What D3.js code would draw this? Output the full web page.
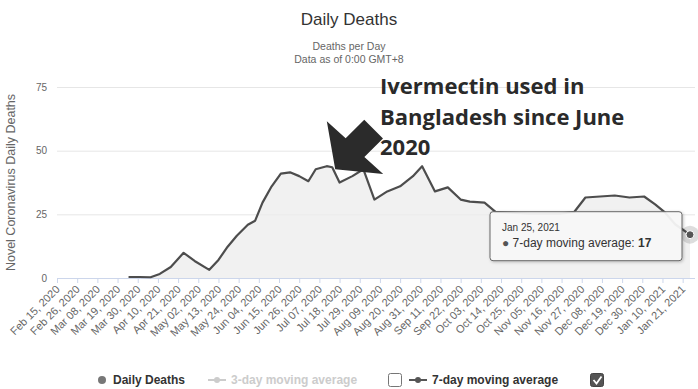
<!DOCTYPE html>
<html>
<head>
<meta charset="utf-8">
<script src="https://cdn.jsdelivr.net/npm/d3@7"></script>
<style>
  html, body { margin: 0; padding: 0; background: #fff; }
  svg { display: block; font-family: "Liberation Sans", Arial, sans-serif; }
</style>
</head>
<body>
<svg id="chart" width="698" height="389"></svg>
<script>
// Bangladesh: novel coronavirus deaths, 7-day moving average
const avgDates = [
  "2020-03-25","2020-03-31","2020-04-06","2020-04-11","2020-04-17","2020-04-24",
  "2020-04-30","2020-05-08","2020-05-13","2020-05-18","2020-05-23","2020-05-29",
  "2020-06-02","2020-06-06","2020-06-11","2020-06-16","2020-06-21","2020-06-26",
  "2020-07-01","2020-07-05","2020-07-11","2020-07-14","2020-07-18","2020-07-25",
  "2020-07-31","2020-08-06","2020-08-13","2020-08-20","2020-08-27","2020-09-01",
  "2020-09-08","2020-09-15","2020-09-22","2020-09-27","2020-10-05","2020-10-11",
  "2020-10-19","2020-10-30","2020-11-15","2020-11-23","2020-11-29","2020-12-07",
  "2020-12-15","2020-12-23","2020-12-31","2021-01-06","2021-01-11","2021-01-17",
  "2021-01-25"
];
const avgValues = [
  0.4, 0.4, 0.3, 1.6, 4.3, 9.9,
  6.7, 3.2, 7.1, 12.3, 16.6, 20.9,
  22.5, 29.6, 36, 41, 41.5, 40,
  38, 42.7, 43.9, 43.5, 37.5, 40,
  42.7, 30.8, 34, 36, 40, 43.9,
  34, 35.6, 30.8, 30, 29.6, 26,
  25.7, 25.3, 25.3, 26, 31.6, 32,
  32.4, 31.6, 32, 28.9, 26, 21,
  17
];
const tickLabels = [
  "Feb 15, 2020","Feb 26, 2020","Mar 08, 2020","Mar 19, 2020","Mar 30, 2020",
  "Apr 10, 2020","Apr 21, 2020","May 02, 2020","May 13, 2020","May 24, 2020",
  "Jun 04, 2020","Jun 15, 2020","Jun 26, 2020","Jul 07, 2020","Jul 18, 2020",
  "Jul 29, 2020","Aug 09, 2020","Aug 20, 2020","Aug 31, 2020","Sep 11, 2020",
  "Sep 22, 2020","Oct 03, 2020","Oct 14, 2020","Oct 25, 2020","Nov 05, 2020",
  "Nov 16, 2020","Nov 27, 2020","Dec 08, 2020","Dec 19, 2020","Dec 30, 2020",
  "Jan 10, 2021","Jan 21, 2021"
];
const yTicks = [0, 25, 50, 75];
const legendItems = ["Daily Deaths", "3-day moving average", "7-day moving average"];
const noteLines = ["Ivermectin used in", "Bangladesh since June", "2020"];
const notePoint = { date: "2020-07-14", value: 43.5 };
const hoverLabel = "Jan 25, 2021";

const parseIso = d3.utcParse("%Y-%m-%d");
const parseTick = d3.utcParse("%b %d, %Y");
const points = avgDates.map((d, i) => ({ date: parseIso(d), value: avgValues[i] }));

const svg = d3.select("#chart");
const plot = { left: 57, right: 695, top: 87, bottom: 278 };

const x = d3.scaleUtc()
  .domain([parseTick(tickLabels[0]), points[points.length - 1].date])
  .range([plot.left, 690]);
const y = d3.scaleLinear().domain([0, 75]).range([plot.bottom, plot.top]);

// titles
svg.append("text").attr("x", 349).attr("y", 25).attr("text-anchor", "middle")
  .attr("font-size", 17).attr("fill", "#333").text("Daily Deaths");
svg.append("text").attr("x", 349).attr("y", 50).attr("text-anchor", "middle")
  .attr("font-size", 10.5).attr("fill", "#666").text("Deaths per Day");
svg.append("text").attr("x", 349).attr("y", 63).attr("text-anchor", "middle")
  .attr("font-size", 10.5).attr("fill", "#666").text("Data as of 0:00 GMT+8");

// grid + y axis
const yAxis = d3.axisLeft(y).tickValues(yTicks).tickSize(-(plot.right - plot.left)).tickPadding(10);
const gy = svg.append("g").attr("transform", `translate(${plot.left},0)`).call(yAxis);
gy.select(".domain").remove();
gy.selectAll(".tick line").attr("stroke", "#e6e6e6");
gy.selectAll(".tick text").attr("font-size", 10).attr("fill", "#666")
  .attr("font-family", "Liberation Sans, Arial, sans-serif");

svg.append("text")
  .attr("transform", `translate(15,${(plot.top + plot.bottom) / 2}) rotate(-90)`)
  .attr("text-anchor", "middle").attr("font-size", 12.5).attr("fill", "#666")
  .text("Novel Coronavirus Daily Deaths");

// x axis
const tickDates = tickLabels.map(parseTick);
const xAxis = d3.axisBottom(x).tickValues(tickDates).tickSize(5).tickFormat((d, i) => tickLabels[i]);
const gx = svg.append("g").attr("transform", `translate(0,${plot.bottom})`).call(xAxis);
gx.select(".domain").attr("stroke", "#ccd6eb").attr("d", `M${plot.left},0.5H${plot.right}`);
gx.selectAll(".tick line").attr("stroke", "#ccd6eb");
gx.selectAll(".tick text")
  .attr("font-size", 11).attr("fill", "#666")
  .attr("font-family", "Liberation Sans, Arial, sans-serif")
  .attr("text-anchor", "end").attr("dy", null).attr("y", null)
  .attr("transform", "translate(3,12) rotate(-45)");

// pale fill under the average
const area = d3.area().x(d => x(d.date)).y0(y(0)).y1(d => y(d.value));
svg.append("path").datum(points).attr("d", area).attr("fill", "#ececec").attr("opacity", 0.75);

// 7-day moving average line
const line = d3.line().x(d => x(d.date)).y(d => y(d.value));
svg.append("path").datum(points).attr("d", line)
  .attr("fill", "none").attr("stroke", "#4d4d4d").attr("stroke-width", 2.2)
  .attr("stroke-linejoin", "round");

// hovered point
const last = points[points.length - 1];
svg.append("circle").attr("cx", x(last.date)).attr("cy", y(last.value)).attr("r", 9)
  .attr("fill", "#555").attr("opacity", 0.2);
svg.append("circle").attr("cx", x(last.date)).attr("cy", y(last.value)).attr("r", 4)
  .attr("fill", "#555").attr("stroke", "#fff").attr("stroke-width", 1);

// tooltip
const defs = svg.append("defs");
const sh = defs.append("filter").attr("id", "shadow").attr("x", "-10%").attr("y", "-10%")
  .attr("width", "130%").attr("height", "150%");
sh.append("feDropShadow").attr("dx", 1).attr("dy", 1).attr("stdDeviation", 1.5)
  .attr("flood-color", "#000").attr("flood-opacity", 0.25);
const tip = svg.append("g").attr("transform", `translate(${x(last.date) - 200},${y(last.value) - 23})`);
tip.append("rect").attr("width", 192).attr("height", 49).attr("rx", 3)
  .attr("fill", "rgba(250,250,250,0.92)").attr("stroke", "#666").attr("filter", "url(#shadow)");
tip.append("text").attr("x", 12).attr("y", 19).attr("font-size", 10).attr("fill", "#333").text(hoverLabel);
const tl = tip.append("text").attr("x", 12).attr("y", 35).attr("font-size", 12).attr("fill", "#333");
tl.append("tspan").attr("fill", "#555").text("● ");
tl.append("tspan").text(legendItems[2] + ": ");
tl.append("tspan").attr("font-weight", "bold").text(d3.format("d")(last.value));

// annotation arrow anchored at the summer peak
const tipX = x(parseIso(notePoint.date)) + 3, tipY = y(notePoint.value) + 2;
const arrowScale = 1.2;
const arrow = [[0,0],[40,4],[24.3,-10.2],[39.8,-25.7],[24.2,-41.3],[8.7,-25.8],[-7,-40]];
svg.append("polygon")
  .attr("points", arrow.map(p => [tipX + p[0] * arrowScale, tipY + p[1] * arrowScale].join(",")).join(" "))
  .attr("fill", "#2b2b2b");
const note = svg.append("text").attr("font-family", "'Open Sans', sans-serif")
  .attr("font-weight", "bold").attr("font-size", 22).attr("fill", "#2a2a2a");
noteLines.forEach((t, i) => {
  note.append("tspan").attr("x", 380).attr("y", 94 + i * 30.5).text(t);
});

// legend
const lg = svg.append("g").attr("font-size", 12).attr("font-weight", "bold");
lg.append("circle").attr("cx", 102).attr("cy", 380).attr("r", 4).attr("fill", "#777");
lg.append("text").attr("x", 113).attr("y", 384).attr("fill", "#333").text(legendItems[0]);

lg.append("line").attr("x1", 208).attr("x2", 226).attr("y1", 380).attr("y2", 380)
  .attr("stroke", "#ccc").attr("stroke-width", 2);
lg.append("circle").attr("cx", 217).attr("cy", 380).attr("r", 3).attr("fill", "#ccc");
lg.append("text").attr("x", 231).attr("y", 384).attr("fill", "#ccc").text(legendItems[1]);
lg.append("rect").attr("x", 388.5).attr("y", 373.5).attr("width", 13).attr("height", 13)
  .attr("fill", "#fff").attr("stroke", "#767676").attr("rx", 2);

lg.append("line").attr("x1", 409).attr("x2", 427).attr("y1", 380).attr("y2", 380)
  .attr("stroke", "#555").attr("stroke-width", 2);
lg.append("circle").attr("cx", 418).attr("cy", 380).attr("r", 3).attr("fill", "#555");
lg.append("text").attr("x", 432).attr("y", 384).attr("fill", "#333").text(legendItems[2]);
lg.append("rect").attr("x", 590.5).attr("y", 373.5).attr("width", 13).attr("height", 13)
  .attr("fill", "#555").attr("stroke", "#444").attr("rx", 2);
lg.append("path").attr("d", "M593.5,380 l3,3.5 l5,-7").attr("fill", "none")
  .attr("stroke", "#fff").attr("stroke-width", 1.8);
</script>
</body>
</html>
